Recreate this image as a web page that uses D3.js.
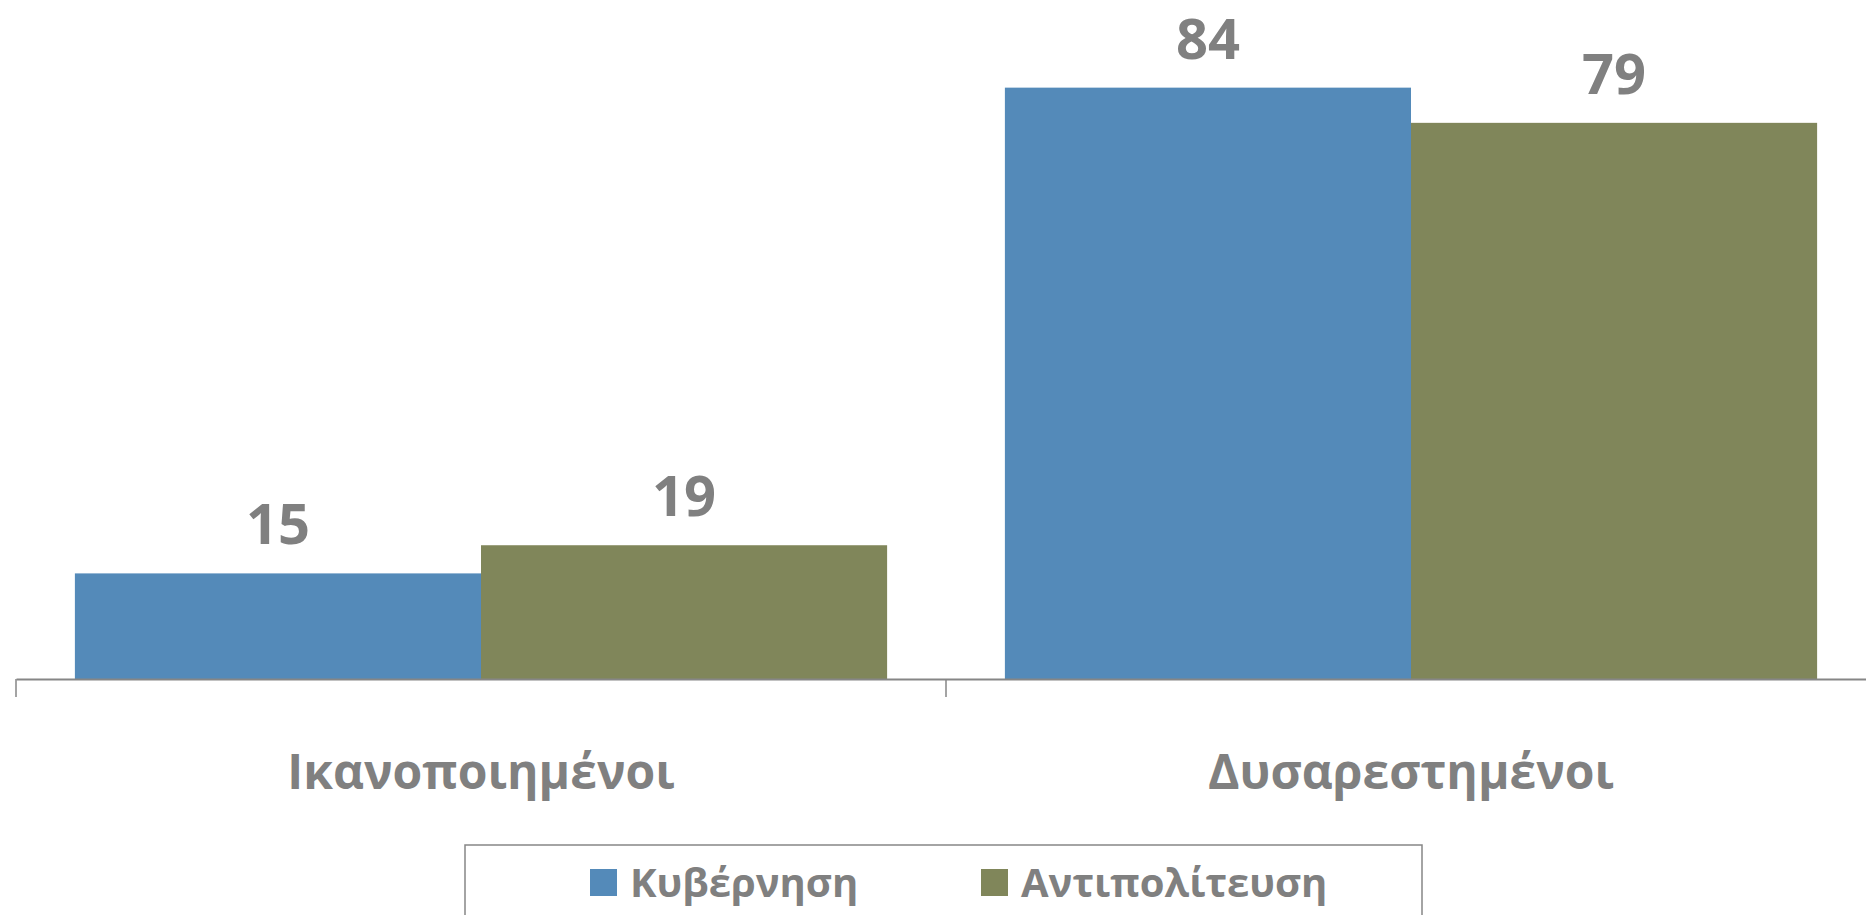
<!DOCTYPE html>
<html>
<head>
<meta charset="utf-8">
<script src="https://cdn.jsdelivr.net/npm/d3@7"></script>
<style>
  html, body { margin: 0; padding: 0; background: #fff; overflow: hidden; }
  text { font-family: "Open Sans", "Noto Sans", sans-serif; font-weight: bold; fill: #808080; }
</style>
</head>
<body>
<div id="chart"></div>
<script>
// Data
const categories = ['Ικανοποιημένοι', 'Δυσαρεστημένοι'];
const seriesNames = ['Κυβέρνηση', 'Αντιπολίτευση'];
const government = [15, 84];
const opposition = [19, 79];

const width = 1866;
const height = 915;
const axisY = 679;

const svg = d3.select('#chart')
    .append('svg')
    .attr('width', width)
    .attr('height', height);

const colorScale = d3.scaleOrdinal()
    .domain(seriesNames)
    .range(['#548ab9', '#80865a']);

// Scales
const x0 = d3.scaleBand()
    .domain(categories)
    .range([16, 1876])
    .padding(0);

const x1 = d3.scaleBand()
    .domain(seriesNames)
    .range([0, x0.bandwidth()])
    .paddingInner(0)
    .paddingOuter(0.145);

const yScale = d3.scaleLinear()
    .domain([0, 90])
    .range([axisY, axisY - 90 * 7.04]);

const rows = categories.map((c, i) => ({
    category: c,
    values: [
        { series: seriesNames[0], value: government[i] },
        { series: seriesNames[1], value: opposition[i] }
    ]
}));

// Bars
const groups = svg.selectAll('.group')
    .data(rows)
    .enter()
    .append('g')
    .attr('class', 'group')
    .attr('transform', d => `translate(${x0(d.category)},0)`);

groups.selectAll('rect')
    .data(d => d.values)
    .enter()
    .append('rect')
    .attr('x', d => x1(d.series))
    .attr('y', d => yScale(d.value))
    .attr('width', x1.bandwidth())
    .attr('height', d => yScale(0) - yScale(d.value))
    .style('fill', d => colorScale(d.series));

// Value labels
groups.selectAll('.value')
    .data(d => d.values)
    .enter()
    .append('text')
    .attr('class', 'value')
    .attr('x', d => x1(d.series) + x1.bandwidth() / 2)
    .attr('y', d => yScale(d.value) - 29)
    .attr('text-anchor', 'middle')
    .style('font-size', '56px')
    .text(d => d.value);

// X axis
const xAxis = svg.append('g')
    .attr('transform', `translate(0,${axisY})`)
    .call(d3.axisBottom(x0).tickSize(0).tickFormat(''));
xAxis.select('.domain')
    .attr('stroke', '#868686')
    .attr('stroke-width', 2);

// Category boundary ticks
const boundaries = categories.map(c => x0(c));
svg.selectAll('.cat-tick')
    .data(boundaries)
    .enter()
    .append('line')
    .attr('x1', d => d)
    .attr('x2', d => d)
    .attr('y1', axisY)
    .attr('y2', axisY + 18)
    .attr('stroke', '#868686')
    .attr('stroke-width', 1.5);

// Category labels
svg.selectAll('.cat-label')
    .data(categories)
    .enter()
    .append('text')
    .attr('class', 'cat-label')
    .attr('x', d => x0(d) + x0.bandwidth() / 2)
    .attr('y', 789)
    .attr('text-anchor', 'middle')
    .style('font-size', '48px')
    .text(d => d);

// Legend
const legend = svg.append('g').attr('class', 'legend');

legend.append('rect')
    .attr('x', 465)
    .attr('y', 845)
    .attr('width', 957)
    .attr('height', 100)
    .attr('fill', 'none')
    .attr('stroke', '#868686')
    .attr('stroke-width', 1.5);

const legendX = [590, 981];
seriesNames.forEach((name, i) => {
    const item = legend.append('g')
        .attr('transform', `translate(${legendX[i]}, 869)`);
    item.append('rect')
        .attr('width', 27)
        .attr('height', 27)
        .style('fill', colorScale(name));
    item.append('text')
        .attr('x', 40)
        .attr('y', 28)
        .style('font-size', '40px')
        .text(name);
});
</script>
</body>
</html>
